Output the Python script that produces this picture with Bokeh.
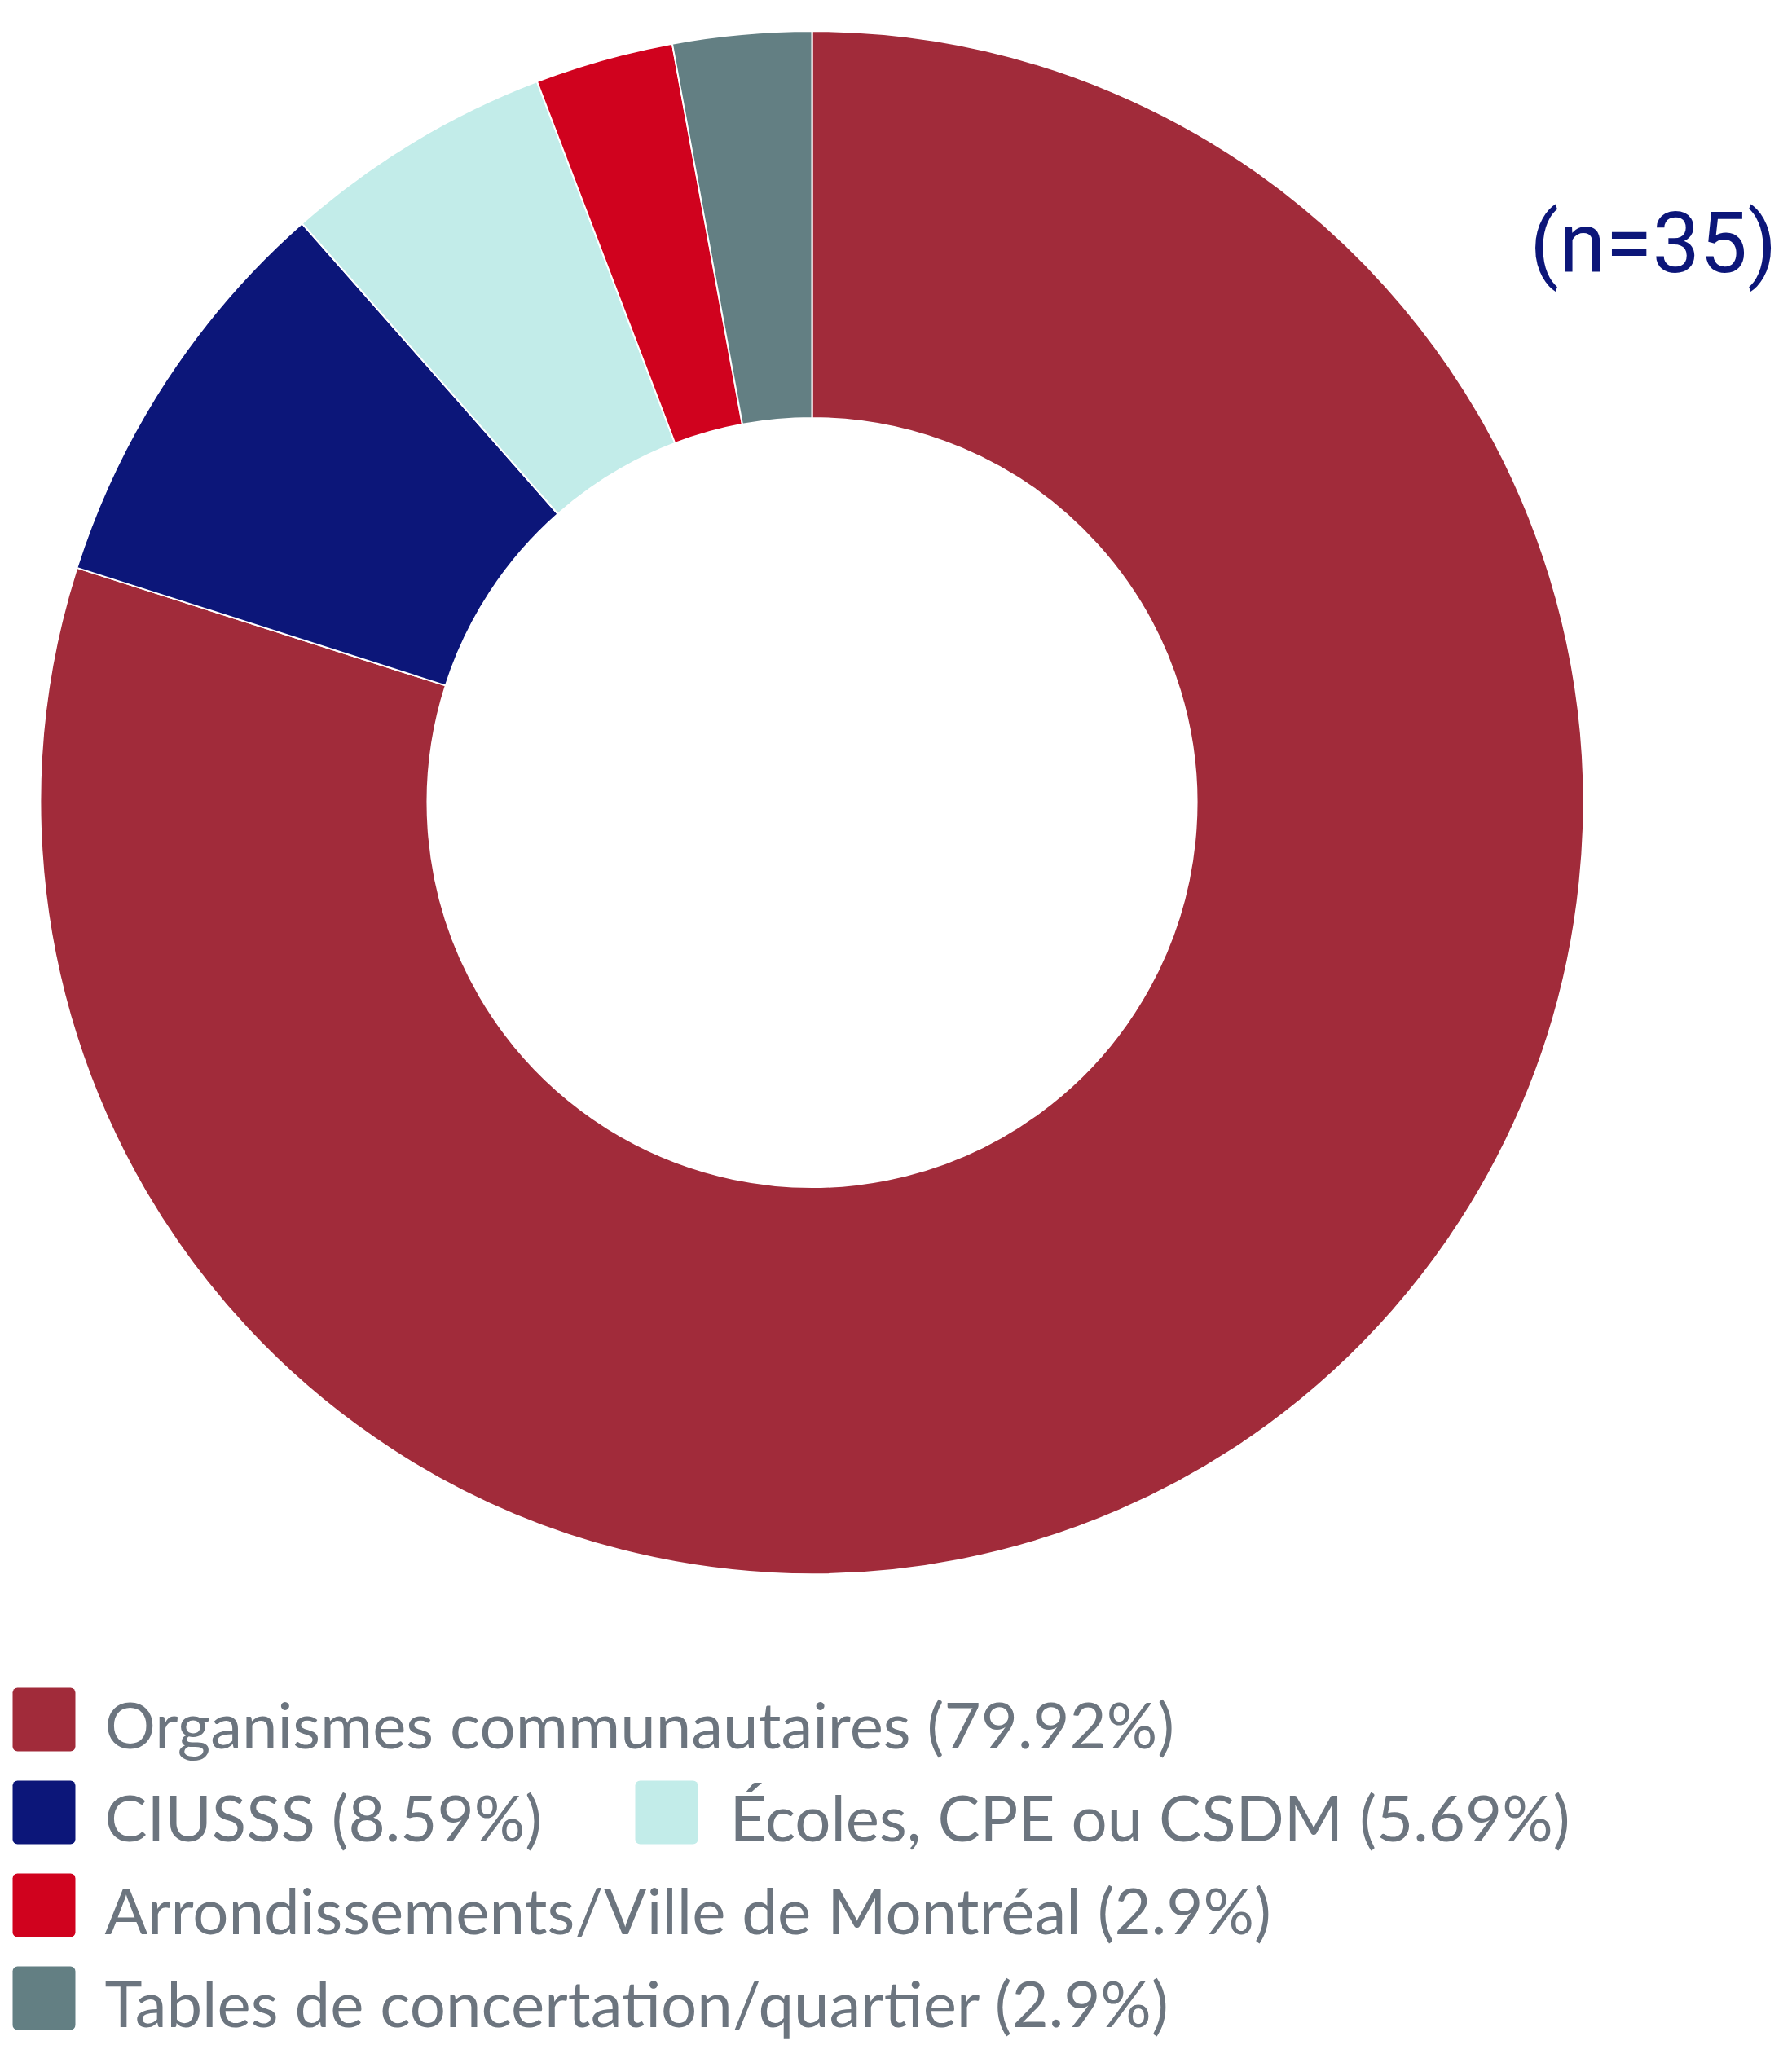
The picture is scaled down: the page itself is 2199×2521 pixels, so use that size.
import numpy as np
from bokeh.plotting import figure
from bokeh.models import Range1d, ColumnDataSource
from bokeh.core.properties import value
from bokeh.embed import file_html
from bokeh.resources import INLINE

categories = ["Organismes communautaires", "CIUSSS", "Écoles, CPE ou CSDM",
              "Arrondissements/Ville de Montréal", "Tables de concertation/quartier"]
shares = [79.92, 8.59, 5.69, 2.9, 2.9]
colors = ["#A12B3A", "#0C1679", "#C2ECE9", "#D0021E", "#637F83"]
sample_label = "(n=35)"

# legend layout: (column, row) for each category
legend_col = [0, 0, 1, 0, 0]
legend_row = [0, 1, 1, 2, 3]

W, H = 2183, 2505


def sy(y):
    return H - y


p = figure(width=W, height=H, output_backend="svg", toolbar_location=None,
           x_range=Range1d(0, W), y_range=Range1d(0, H), min_border=0)
p.axis.visible = False
p.xgrid.visible = False
p.ygrid.visible = False
p.outline_line_color = None
p.background_fill_color = "white"
p.border_fill_color = "white"

# donut
vals = np.array(shares, dtype=float)
frac = vals / vals.sum()
cum = np.concatenate([[0.0], np.cumsum(frac)])
a_from = np.pi / 2 - cum[:-1] * 2 * np.pi
a_to = np.pi / 2 - cum[1:] * 2 * np.pi
src = ColumnDataSource(dict(start=a_to, end=a_from, color=colors))
p.annular_wedge(x=996, y=sy(984.5), inner_radius=472, outer_radius=947,
                start_angle="start", end_angle="end", color="color",
                line_color="white", line_width=2, source=src)

# sample size label
n_size = 104
p.text(x=[2180], y=[sy(338 - 0.38 * n_size)], text=[sample_label],
       text_font=value("Roboto"), text_font_size=f"{n_size}px",
       text_color="#0C1679", text_align="right", text_baseline="alphabetic")

# legend
col_x_sq = [15, 779]
col_x_tx = [128, 895]
row_top = 2071
row_step = 114
sq = 78
fs = 78
left, right, top, bottom, tx, ty, labels = [], [], [], [], [], [], []
for cat, v, c, r in zip(categories, shares, legend_col, legend_row):
    t = row_top + r * row_step
    left.append(col_x_sq[c])
    right.append(col_x_sq[c] + sq - 1)
    top.append(sy(t))
    bottom.append(sy(t + sq))
    tx.append(col_x_tx[c])
    ty.append(sy(t + sq / 2 + 34 - 29))
    labels.append(f"{cat} ({v}%)")

p.quad(left=left, right=right, top=top, bottom=bottom, fill_color=colors,
       line_color=None, border_radius=6)
p.text(x=tx, y=ty, text=labels, text_font=value("Lato"), text_font_size=f"{fs}px",
       text_color="#6C757F", text_align="left", text_baseline="alphabetic")

open("out.html", "w").write(file_html(p, INLINE))
